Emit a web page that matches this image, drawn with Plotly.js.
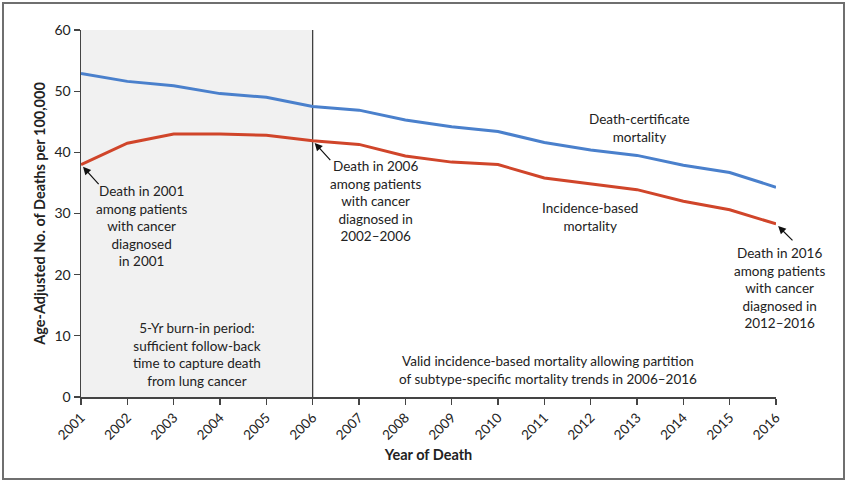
<!DOCTYPE html>
<html>
<head>
<meta charset="utf-8">
<script src="https://cdn.plot.ly/plotly-3.0.1.min.js"></script>
<style>
  html, body { margin: 0; padding: 0; background: #fff; }
  #wrap { position: relative; width: 849px; height: 482px; }
  #chart { width: 849px; height: 482px; }
  #frame { position: absolute; left: 2px; top: 2px; width: 839px; height: 474px;
           border: 2px solid #6f6f6f; pointer-events: none; }
</style>
</head>
<body>
<div id="wrap">
  <div id="chart"></div>
  <div id="frame"></div>
</div>
<script>
// ---- data ----
const years = [2001, 2002, 2003, 2004, 2005, 2006, 2007, 2008, 2009, 2010, 2011, 2012, 2013, 2014, 2015, 2016];
const deathCertificate = [52.9, 51.6, 50.9, 49.6, 49.0, 47.5, 46.9, 45.3, 44.2, 43.4, 41.6, 40.4, 39.5, 37.9, 36.7, 34.3];
const incidenceBased   = [38.0, 41.5, 43.0, 43.0, 42.8, 41.9, 41.3, 39.4, 38.4, 38.0, 35.8, 34.8, 33.9, 32.0, 30.6, 28.3];
const burnInStart = 2001;
const burnInEnd = 2006;
const yTicks = [0, 10, 20, 30, 40, 50, 60];

const FONT = 'Lato, "Open Sans", sans-serif';
const TXT = '#222';
const fs = 13.5;

const traces = [
  { x: years, y: deathCertificate, type: 'scatter', mode: 'lines',
    line: { color: '#4a80cc', width: 3 }, name: 'Death-certificate mortality', hoverinfo: 'x+y' },
  { x: years, y: incidenceBased, type: 'scatter', mode: 'lines',
    line: { color: '#d0452a', width: 3 }, name: 'Incidence-based mortality', hoverinfo: 'x+y' }
];

function textAnn(x, y, text, xshift) {
  return { x: x, y: y, xref: 'x', yref: 'y', text: text, showarrow: false,
           align: 'center', xanchor: 'center', yanchor: 'middle', xshift: xshift || 0,
           font: { family: FONT, size: fs, color: TXT } };
}
function arrowAnn(x, y, ax, ay) {
  return { x: x, y: y, xref: 'x', yref: 'y', text: '', showarrow: true,
           arrowhead: 2, arrowsize: 1.3, arrowwidth: 1.2, arrowcolor: '#111',
           ax: ax, ay: ay, standoff: 3 };
}

const annotations = [
  textAnn(2002.3, 27.9, 'Death in 2001<br>among patients<br>with cancer<br>diagnosed<br>in 2001'),
  arrowAnn(years[0], incidenceBased[0], 19, 21),
  textAnn(2007.35, 32.0, 'Death in 2006<br>among patients<br>with cancer<br>diagnosed in<br>2002–2006'),
  arrowAnn(years[5], incidenceBased[5], 19, 21),
  textAnn(2016, 17.9, 'Death in 2016<br>among patients<br>with cancer<br>diagnosed in<br>2012–2016', 3),
  arrowAnn(years[15], incidenceBased[15], 18, 18),
  textAnn(2013.06, 43.9, 'Death-certificate<br>mortality'),
  textAnn(2011.99, 29.4, 'Incidence-based<br>mortality'),
  textAnn(2003.5, 7.0, '5-Yr burn-in period:<br>sufficient follow-back<br>time to capture death<br>from lung cancer'),
  textAnn(2011.07, 4.45, 'Valid incidence-based mortality allowing partition<br>of subtype-specific mortality trends in 2006–2016')
];

const layout = {
  width: 849, height: 482,
  margin: { l: 81, r: 73, t: 29.5, b: 85, pad: 0 },
  paper_bgcolor: '#fff', plot_bgcolor: '#fff',
  showlegend: false,
  font: { family: FONT, size: fs, color: TXT },
  xaxis: {
    range: [years[0], years[years.length - 1]],
    tickmode: 'array', tickvals: years, ticktext: years.map(String),
    tickangle: -45, ticks: 'outside', ticklen: 6, tickwidth: 1.3, tickcolor: '#444',
    showline: true, linecolor: '#444', linewidth: 1.5,
    showgrid: false, zeroline: false,
    tickfont: { family: FONT, size: 13.5, color: TXT },
    title: { text: 'Year of Death', standoff: 8,
             font: { family: FONT, size: 14.5, color: TXT, weight: 'bold' } }
  },
  yaxis: {
    range: [0, 60],
    tickmode: 'array', tickvals: yTicks, ticktext: yTicks.map(String),
    ticks: 'outside', ticklen: 6, tickwidth: 1.3, tickcolor: '#444',
    showline: true, linecolor: '#444', linewidth: 1.5,
    showgrid: false, zeroline: false,
    tickfont: { family: FONT, size: 14, color: TXT },
    title: { text: 'Age-Adjusted No. of Deaths per 100,000', standoff: 5,
             font: { family: FONT, size: 14.5, color: TXT, weight: 'bold' } }
  },
  shapes: [
    { type: 'rect', xref: 'x', yref: 'y', x0: burnInStart, x1: burnInEnd, y0: 0, y1: 60,
      fillcolor: '#f1f1f1', line: { width: 0 }, layer: 'below' },
    { type: 'line', xref: 'x', yref: 'y', x0: burnInEnd, x1: burnInEnd, y0: 0, y1: 60,
      line: { color: '#333', width: 1.2 }, layer: 'below' }
  ],
  annotations: annotations
};

Plotly.newPlot('chart', traces, layout, { displayModeBar: false, staticPlot: true });
</script>
</body>
</html>
